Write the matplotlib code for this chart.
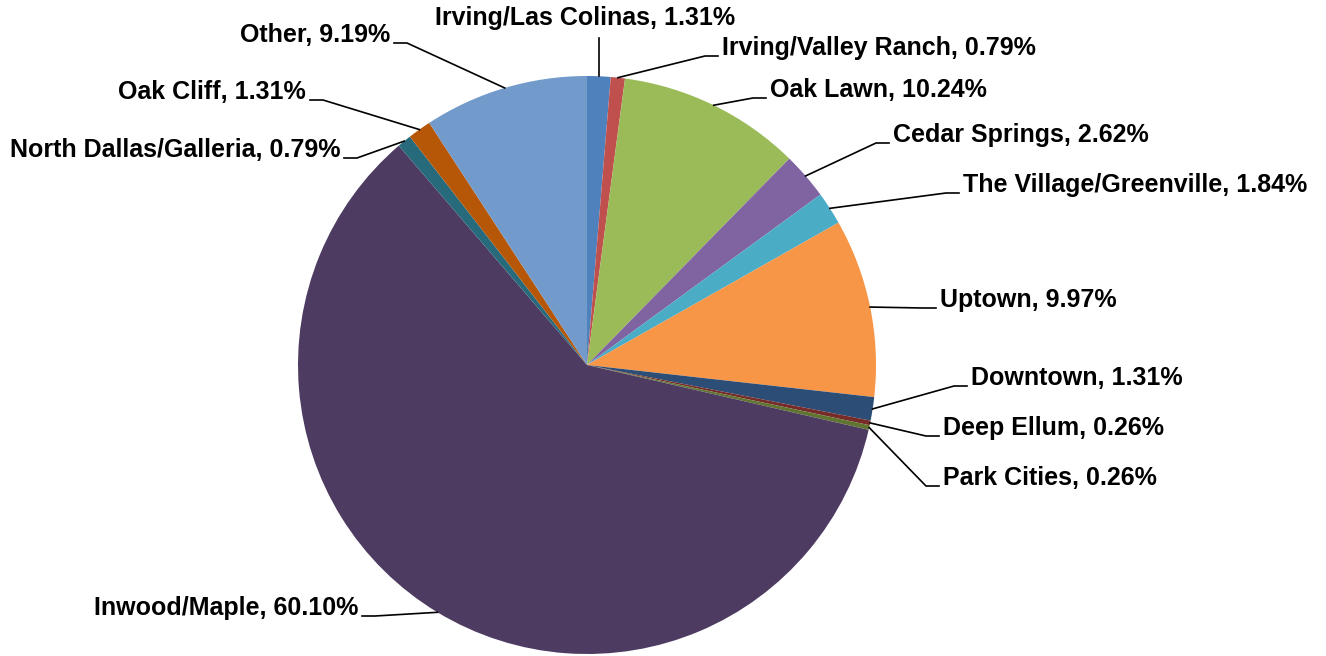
import numpy as np
import matplotlib.pyplot as plt

labels = ["Irving/Las Colinas", "Irving/Valley Ranch", "Oak Lawn", "Cedar Springs",
          "The Village/Greenville", "Uptown", "Downtown", "Deep Ellum", "Park Cities",
          "Inwood/Maple", "North Dallas/Galleria", "Oak Cliff", "Other"]
shares = [1.31, 0.79, 10.24, 2.62, 1.84, 9.97, 1.31, 0.26, 0.26, 60.10, 0.79, 1.31, 9.19]
colors = ["#4F81BD", "#C0504D", "#9BBB59", "#8064A2", "#4BACC6", "#F79646", "#2C4D75",
          "#772C2A", "#5F7530", "#4D3B62", "#276A7C", "#B65708", "#729ACA"]

# label anchor in pixels of the 1326x656 canvas: (x, y, side)
label_pos = [(585, 18, "top"), (722, 48, "left"), (770, 90, "left"), (893, 135, "left"),
             (963, 185, "left"), (940, 300, "left"), (971, 378, "left"), (943, 428, "left"),
             (943, 478, "left"), (358, 608, "right"), (340, 150, "right"), (306, 92, "right"),
             (390, 35, "right")]

W, H = 1326, 656
CX, CY, R = 587, 365, 289


def to_data(px, py):
    return (px - CX) / R, (CY - py) / R


fig = plt.figure(figsize=(W / 100, H / 100), dpi=100)
ax = fig.add_axes([(CX - R) / W, (H - CY - R) / H, 2 * R / W, 2 * R / H])
wedges, _ = ax.pie(shares, colors=colors, startangle=90, counterclock=False, radius=1,
                   wedgeprops=dict(linewidth=0, edgecolor="none"))
ax.set_xlim(-1, 1)
ax.set_ylim(-1, 1)
ax.axis("off")

font = dict(family=["Liberation Sans Narrow", "Liberation Sans"], fontsize=18, fontweight="bold")

for w, name, val, (px, py, side) in zip(wedges, labels, shares, label_pos):
    mid = np.deg2rad((w.theta1 + w.theta2) / 2)
    ex, ey = np.cos(mid), np.sin(mid)
    tx, ty = to_data(px, py)
    txt = "{}, {:.2f}%".format(name, val)
    if side == "top":
        ax.text(tx, ty, txt, ha="center", va="center", **font)
        ax.plot([ex, ex], [to_data(0, py + 20)[1], ey], color="black", lw=1.2, clip_on=False)
        continue
    ha = "left" if side == "left" else "right"
    ax.text(tx, ty, txt, ha=ha, va="center", **font)
    sgn = -1 if side == "left" else 1
    ay = to_data(0, py + 8)[1]
    a0 = tx + sgn * 4 / R
    a1 = tx + sgn * 17 / R
    ax.plot([a0, a1, ex], [ay, ay, ey], color="black", lw=1.2, clip_on=False)

fig.savefig("out.png", dpi=100)
